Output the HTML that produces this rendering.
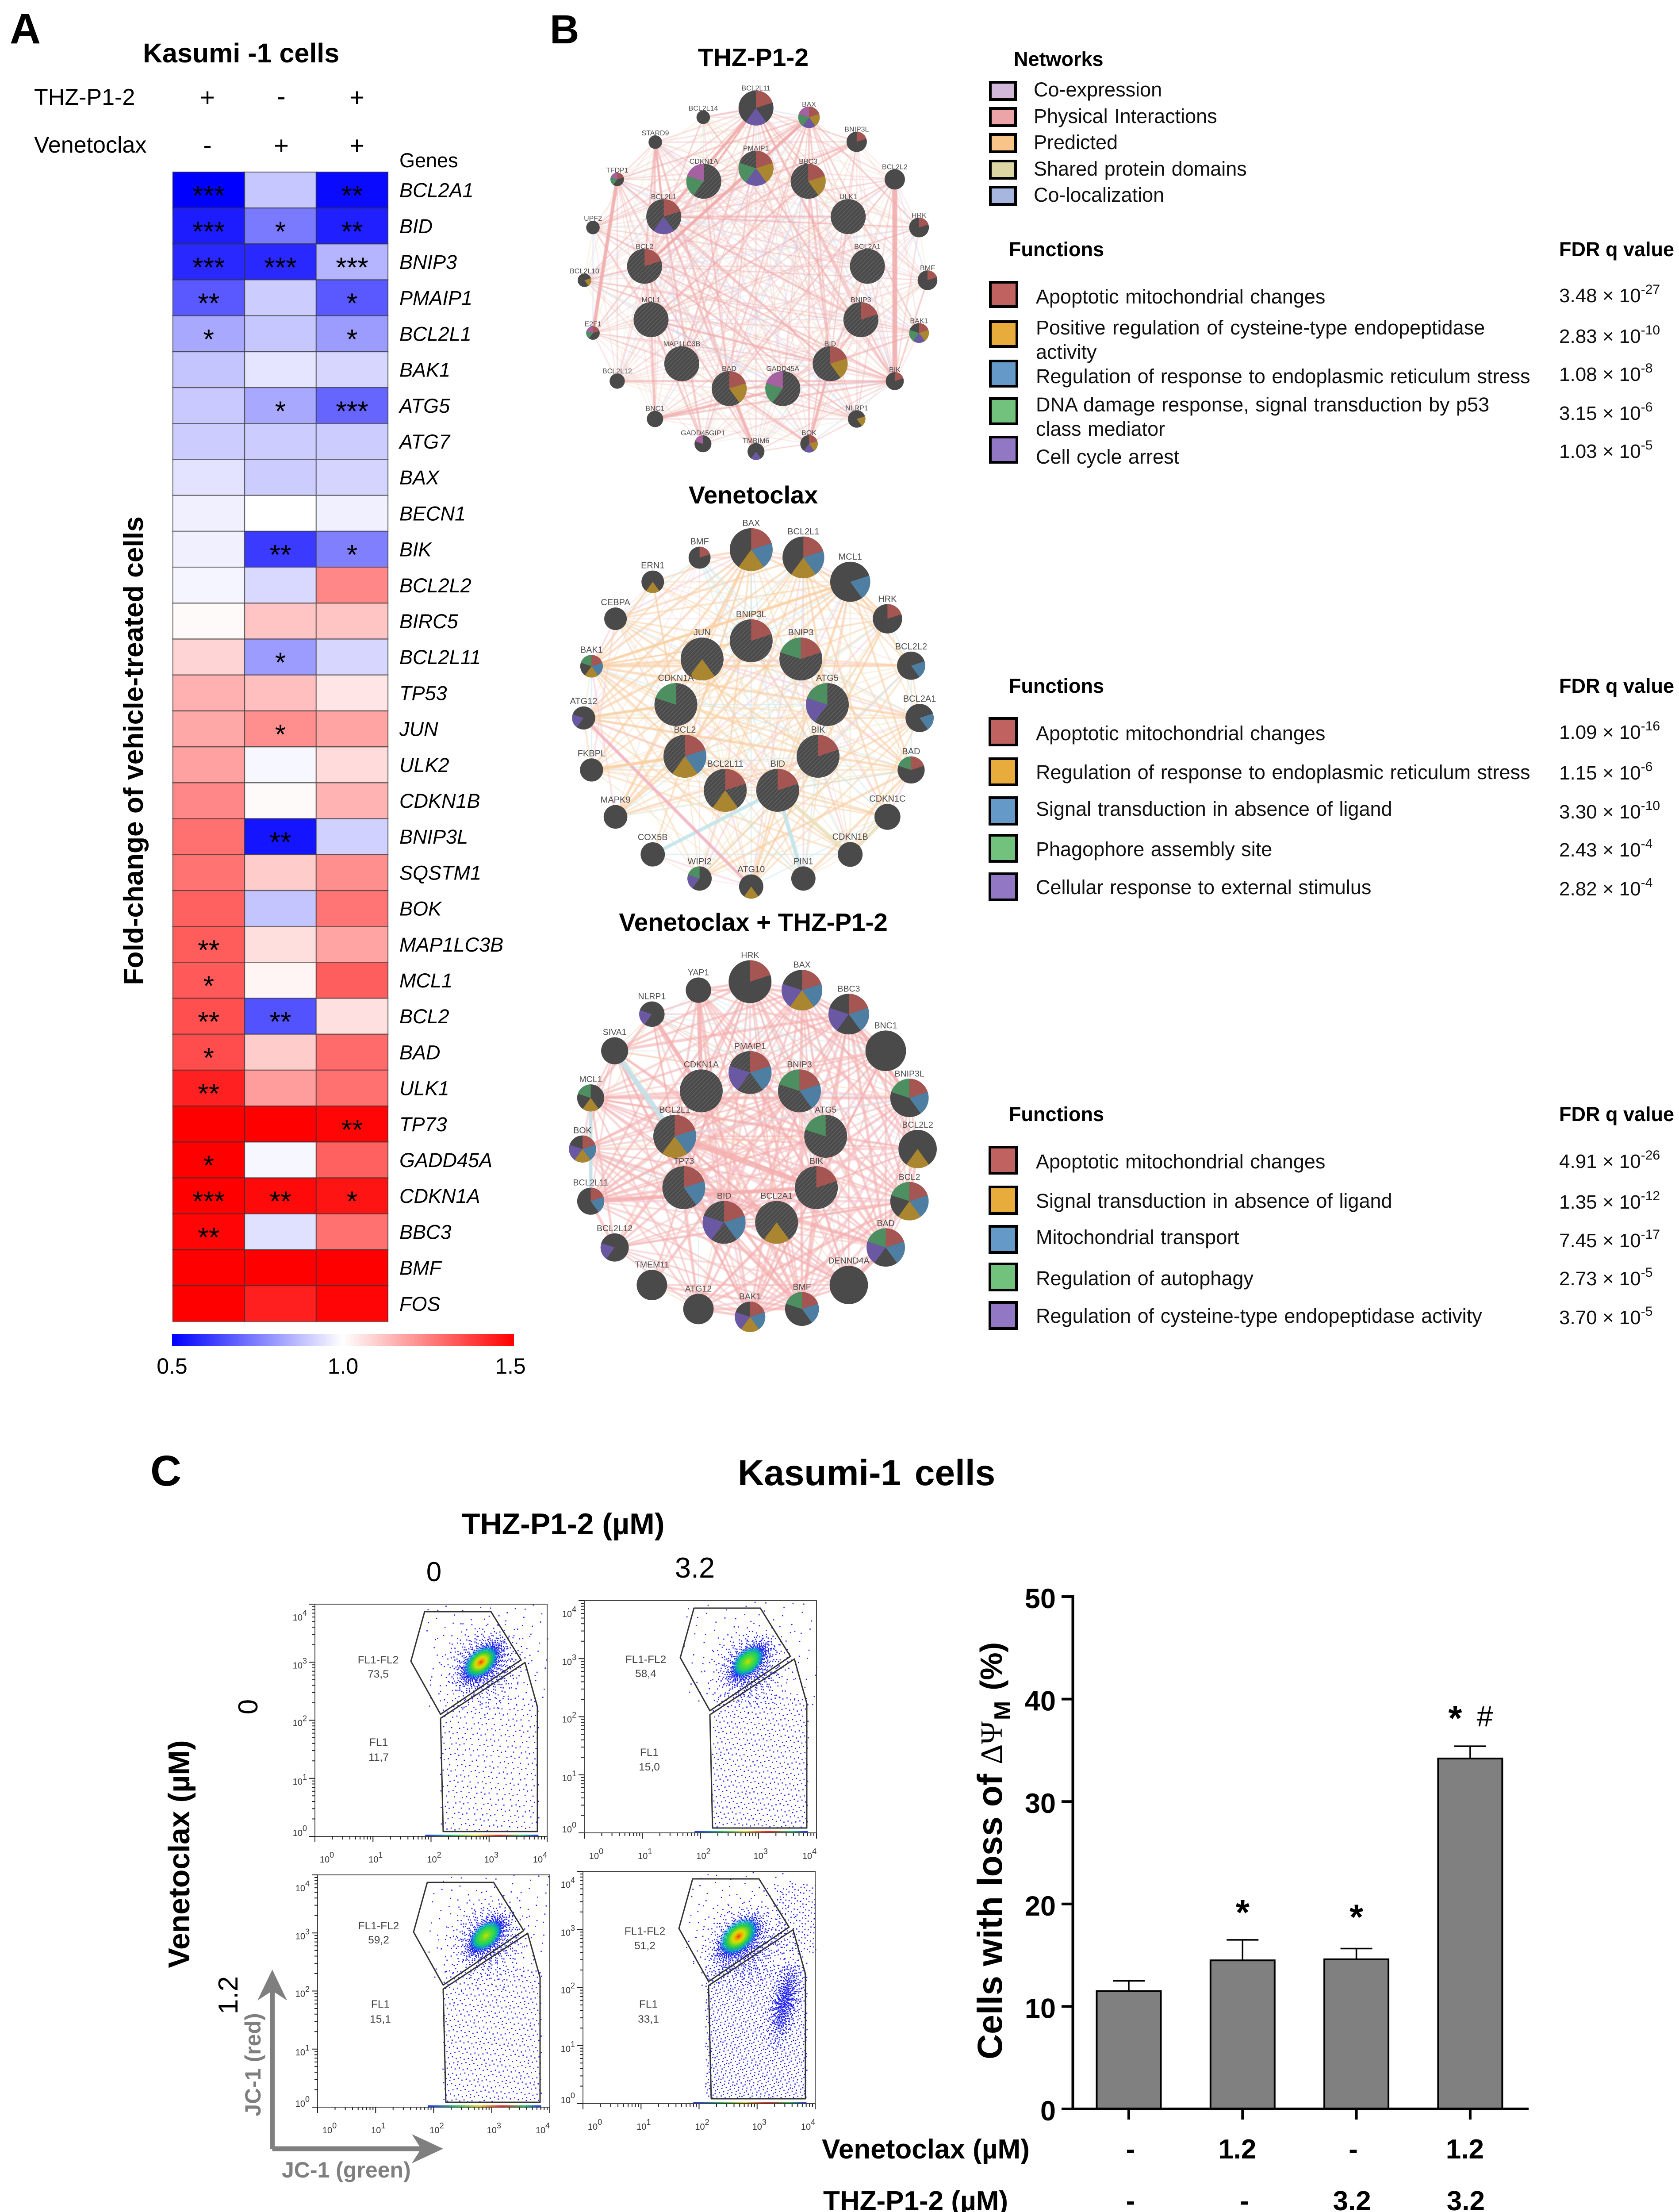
<!DOCTYPE html>
<html lang="en">
<head>
<meta charset="utf-8">
<title>Kasumi-1 cells figure</title>
<style>
html,body{margin:0;padding:0;background:#fff;width:3796px;height:5028px;overflow:hidden}
svg{display:block}
text{font-family:"Liberation Sans",Arial,sans-serif;fill:#000}
.b{font-weight:bold}
.leg{font-size:45px;fill:#111;word-spacing:2px}
.hd{font-size:45px;font-weight:bold}
.fdr{font-size:44px;fill:#111}
.fdr tspan{font-size:30px}
</style>
</head>
<body>
<svg id="fig" xmlns="http://www.w3.org/2000/svg" width="3796" height="5028" viewBox="0 0 3796 5028">
<defs>
<linearGradient id="cbar" x1="0" x2="1" y1="0" y2="0"><stop offset="0" stop-color="#0000ff"/><stop offset=".5" stop-color="#ffffff"/><stop offset="1" stop-color="#ff0000"/></linearGradient>
<linearGradient id="rainbow" x1="0" x2="1" y1="0" y2="0"><stop offset="0" stop-color="#2030ff"/><stop offset=".25" stop-color="#20c060"/><stop offset=".45" stop-color="#e0d020"/><stop offset=".65" stop-color="#f02020"/><stop offset=".85" stop-color="#20c060"/><stop offset="1" stop-color="#2030ff"/></linearGradient>
<radialGradient id="core"><stop offset="0" stop-color="#f03010"/><stop offset=".14" stop-color="#f0a000"/><stop offset=".3" stop-color="#d8e000"/><stop offset=".55" stop-color="#30d040"/><stop offset=".76" stop-color="#00c8b0" stop-opacity=".7"/><stop offset="1" stop-color="#0040ff" stop-opacity="0"/></radialGradient>
<radialGradient id="coreCool"><stop offset="0" stop-color="#d8d800"/><stop offset=".2" stop-color="#70e020"/><stop offset=".55" stop-color="#20d060"/><stop offset=".76" stop-color="#00c8b0" stop-opacity=".7"/><stop offset="1" stop-color="#0040ff" stop-opacity="0"/></radialGradient>
<pattern id="hatch" width="7" height="7" patternUnits="userSpaceOnUse" patternTransform="rotate(-45)"><rect width="7" height="2" fill="#5f5f5f"/></pattern>
<filter id="soft" x="-5%" y="-5%" width="110%" height="110%"><feGaussianBlur stdDeviation="0.9"/></filter>
</defs>

<!-- PANEL A -->
<text x="22" y="98" class="b" font-size="97">A</text>
<text x="323" y="141" class="b" font-size="61">Kasumi -1 cells</text>
<text x="77" y="237" font-size="52">THZ-P1-2</text>
<text x="77" y="345" font-size="52">Venetoclax</text>
<g font-size="58" text-anchor="middle">
<text x="469" y="240">+</text><text x="636" y="238">-</text><text x="807" y="240">+</text>
<text x="469" y="348">-</text><text x="636" y="349">+</text><text x="807" y="349">+</text>
</g>
<text x="903" y="378" font-size="45">Genes</text>
<text transform="translate(323,1697) rotate(-90)" text-anchor="middle" class="b" font-size="62.3">Fold-change of vehicle-treated cells</text>
<g id="heatmap"></g>

<!-- PANEL B -->
<text x="1243" y="98" class="b" font-size="92">B</text>
<text x="1703" y="149" text-anchor="middle" class="b" font-size="57">THZ-P1-2</text>
<text x="1703" y="1138" text-anchor="middle" class="b" font-size="56">Venetoclax</text>
<text x="1703" y="2104" text-anchor="middle" class="b" font-size="56.5">Venetoclax + THZ-P1-2</text>
<g id="networks"></g>

<!-- Networks legend -->
<g>
<text x="2292" y="149" class="hd">Networks</text>
<rect x="2239" y="186" width="57" height="39" fill="#d1b8d9" stroke="#000" stroke-width="6"/>
<text x="2337" y="218" class="leg">Co-expression</text>
<rect x="2239" y="245" width="57" height="39" fill="#eba5a8" stroke="#000" stroke-width="6"/>
<text x="2337" y="278" class="leg">Physical Interactions</text>
<rect x="2239" y="304" width="57" height="39" fill="#f8c488" stroke="#000" stroke-width="6"/>
<text x="2337" y="337" class="leg">Predicted</text>
<rect x="2239" y="364" width="57" height="39" fill="#dcd6a4" stroke="#000" stroke-width="6"/>
<text x="2337" y="397" class="leg">Shared protein domains</text>
<rect x="2239" y="423" width="57" height="39" fill="#a6b6de" stroke="#000" stroke-width="6"/>
<text x="2337" y="456" class="leg">Co-localization</text>
</g>

<!-- Functions 1 -->
<g>
<text x="2281" y="579" class="hd">Functions</text>
<text x="3525" y="579" class="hd">FDR q value</text>
<rect x="2239" y="638" width="60" height="55" fill="#c0625f" stroke="#000" stroke-width="6"/>
<text x="2342" y="686" class="leg">Apoptotic mitochondrial changes</text>
<text x="3525" y="683" class="fdr">3.48 × 10<tspan dy="-19">-27</tspan></text>
<rect x="2239" y="727" width="60" height="56" fill="#e8ac3c" stroke="#000" stroke-width="6"/>
<text x="2342" y="756" class="leg" style="word-spacing:3px">Positive regulation of cysteine-type endopeptidase</text>
<text x="2342" y="811" class="leg">activity</text>
<text x="3525" y="775" class="fdr">2.83 × 10<tspan dy="-19">-10</tspan></text>
<rect x="2239" y="816" width="60" height="57" fill="#6499c8" stroke="#000" stroke-width="6"/>
<text x="2342" y="866" class="leg">Regulation of response to endoplasmic reticulum stress</text>
<text x="3525" y="861" class="fdr">1.08 × 10<tspan dy="-19">-8</tspan></text>
<rect x="2239" y="901" width="60" height="57" fill="#72c27e" stroke="#000" stroke-width="6"/>
<text x="2342" y="930" class="leg">DNA damage response, signal transduction by p53</text>
<text x="2342" y="985" class="leg">class mediator</text>
<text x="3525" y="949" class="fdr">3.15 × 10<tspan dy="-19">-6</tspan></text>
<rect x="2239" y="988" width="60" height="57" fill="#9278c4" stroke="#000" stroke-width="6"/>
<text x="2342" y="1048" class="leg">Cell cycle arrest</text>
<text x="3525" y="1035" class="fdr">1.03 × 10<tspan dy="-19">-5</tspan></text>
</g>

<!-- Functions 2 -->
<g>
<text x="2281" y="1566" class="hd">Functions</text>
<text x="3525" y="1566" class="hd">FDR q value</text>
<rect x="2238" y="1624" width="60" height="60" fill="#c0625f" stroke="#000" stroke-width="6"/>
<text x="2342" y="1673" class="leg">Apoptotic mitochondrial changes</text>
<text x="3525" y="1670" class="fdr">1.09 × 10<tspan dy="-19">-16</tspan></text>
<rect x="2238" y="1715" width="60" height="59" fill="#e8ac3c" stroke="#000" stroke-width="6"/>
<text x="2342" y="1761" class="leg">Regulation of response to endoplasmic reticulum stress</text>
<text x="3525" y="1762" class="fdr">1.15 × 10<tspan dy="-19">-6</tspan></text>
<rect x="2238" y="1803" width="60" height="60" fill="#6499c8" stroke="#000" stroke-width="6"/>
<text x="2342" y="1844" class="leg">Signal transduction in absence of ligand</text>
<text x="3525" y="1850" class="fdr">3.30 × 10<tspan dy="-19">-10</tspan></text>
<rect x="2238" y="1888" width="60" height="59" fill="#72c27e" stroke="#000" stroke-width="6"/>
<text x="2342" y="1935" class="leg">Phagophore assembly site</text>
<text x="3525" y="1936" class="fdr">2.43 × 10<tspan dy="-19">-4</tspan></text>
<rect x="2238" y="1975" width="60" height="59" fill="#9278c4" stroke="#000" stroke-width="6"/>
<text x="2342" y="2021" class="leg">Cellular response to external stimulus</text>
<text x="3525" y="2024" class="fdr">2.82 × 10<tspan dy="-19">-4</tspan></text>
</g>

<!-- Functions 3 -->
<g>
<text x="2281" y="2534" class="hd">Functions</text>
<text x="3525" y="2534" class="hd">FDR q value</text>
<rect x="2238" y="2593" width="60" height="59" fill="#c0625f" stroke="#000" stroke-width="6"/>
<text x="2342" y="2641" class="leg">Apoptotic mitochondrial changes</text>
<text x="3525" y="2640" class="fdr">4.91 × 10<tspan dy="-19">-26</tspan></text>
<rect x="2238" y="2683" width="60" height="60" fill="#e8ac3c" stroke="#000" stroke-width="6"/>
<text x="2342" y="2730" class="leg">Signal transduction in absence of ligand</text>
<text x="3525" y="2732" class="fdr">1.35 × 10<tspan dy="-19">-12</tspan></text>
<rect x="2238" y="2772" width="60" height="59" fill="#6499c8" stroke="#000" stroke-width="6"/>
<text x="2342" y="2812" class="leg">Mitochondrial transport</text>
<text x="3525" y="2819" class="fdr">7.45 × 10<tspan dy="-19">-17</tspan></text>
<rect x="2238" y="2857" width="60" height="59" fill="#72c27e" stroke="#000" stroke-width="6"/>
<text x="2342" y="2905" class="leg">Regulation of autophagy</text>
<text x="3525" y="2905" class="fdr">2.73 × 10<tspan dy="-19">-5</tspan></text>
<rect x="2238" y="2944" width="60" height="59" fill="#9278c4" stroke="#000" stroke-width="6"/>
<text x="2342" y="2990" class="leg">Regulation of cysteine-type endopeptidase activity</text>
<text x="3525" y="2993" class="fdr">3.70 × 10<tspan dy="-19">-5</tspan></text>
</g>

<!-- PANEL C -->
<text x="340" y="3358" class="b" font-size="97">C</text>
<text x="1668" y="3357" class="b" font-size="82" word-spacing="8">Kasumi-1 cells</text>
<text x="1044" y="3468" class="b" font-size="68">THZ-P1-2 (µM)</text>
<text x="981" y="3574" text-anchor="middle" font-size="62">0</text>
<text x="1571" y="3566" text-anchor="middle" font-size="65">3.2</text>
<text transform="translate(428,4191) rotate(-90)" text-anchor="middle" class="b" font-size="68">Venetoclax (µM)</text>
<text transform="translate(582,3858) rotate(-90)" text-anchor="middle" font-size="62">0</text>
<text transform="translate(537,4510) rotate(-90)" text-anchor="middle" font-size="62">1.2</text>
<g id="flow"></g>
<g>
<path d="M615.5 4857V4490M615.5 4857H965" fill="none" stroke="#7f7f7f" stroke-width="11"/>
<path d="M615.7 4452L582 4522L615.7 4500L649 4522Z" fill="#7f7f7f"/>
<path d="M1002 4857L931 4824L952 4857L931 4890Z" fill="#7f7f7f"/>
</g>
<text transform="translate(589,4667) rotate(-90)" text-anchor="middle" class="b" font-size="50" style="fill:#7f7f7f">JC-1 (red)</text>
<text x="637" y="4922" class="b" font-size="50" style="fill:#7f7f7f">JC-1 (green)</text>

<g id="bars"></g>
<text transform="translate(2265,4655) rotate(-90)" class="b" font-size="79">Cells with loss of <tspan font-family="Liberation Serif, serif" font-weight="normal" font-size="70">ΔΨ</tspan><tspan dy="19" dx="3" font-size="52">M</tspan><tspan dy="-19" dx="24" font-size="70">(%)</tspan></text>
<text x="1858" y="4879" class="b" font-size="62">Venetoclax (µM)</text>
<text x="1861" y="4996" class="b" font-size="62">THZ-P1-2 (µM)</text>
</svg>

<script>
/* ---------- HEATMAP DATA ---------- */
const genes = ['BCL2A1','BID','BNIP3','PMAIP1','BCL2L1','BAK1','ATG5','ATG7','BAX','BECN1','BIK','BCL2L2','BIRC5','BCL2L11','TP53','JUN','ULK2','CDKN1B','BNIP3L','SQSTM1','BOK','MAP1LC3B','MCL1','BCL2','BAD','ULK1','TP73','GADD45A','CDKN1A','BBC3','BMF','FOS'];
const thzValues = [0.5,0.555,0.58,0.675,0.83,0.885,0.895,0.9,0.945,0.97,0.97,0.98,1.01,1.085,1.155,1.17,1.185,1.235,1.28,1.275,1.31,1.32,1.325,1.345,1.35,1.435,1.5,1.5,1.5,1.49,1.5,1.5];
const venValues = [0.89,0.74,0.58,0.9,0.89,0.95,0.83,0.9,0.9,1.0,0.615,0.925,1.115,0.805,1.125,1.22,0.985,1.01,0.54,1.1,0.885,1.065,1.02,0.66,1.1,1.195,1.5,0.985,1.48,0.94,1.5,1.44];
const comboValues = [0.52,0.56,0.855,0.675,0.805,0.92,0.7,0.9,0.915,0.97,0.75,1.235,1.115,0.92,1.05,1.18,1.07,1.15,0.91,1.22,1.27,1.18,1.315,1.06,1.29,1.28,1.49,1.31,1.46,1.28,1.5,1.49];
const thzSig = ['***','***','***','**','*','','','','','','','','','','','','','','','','','**','*','**','*','**','','*','***','**','',''];
const venSig = ['','*','***','','','','*','','','','**','','','*','','*','','','**','','','','','**','','','','','**','','',''];
const comboSig = ['**','**','***','*','*','','***','','','','*','','','','','','','','','','','','','','','','**','','*','','',''];
const colorbarTickValues = [0.5,1.0,1.5];
const colorbarTickLabels = ['0.5','1.0','1.5'];

/* ---------- NETWORK DATA: name, column, row, radius, pie slots, hatched ---------- */
const thzNodes = [
['BCL2L11',720,348,62,'r.p..',0],['BAX',908,378,38,'rgpnk',0],['BCL2L14',533,378,24,'',0],['STARD9',363,458,24,'',0],['BNIP3L',1077,457,36,'r....',0],['TFDP1',228,578,24,'r..nk',0],['CDKN1A',535,584,62,'...nk',1],['PMAIP1',720,542,62,'rgpn.',1],['BBC3',905,584,62,'rg...',1],['BCL2L2',1212,578,36,'',0],['ULK1',1047,698,62,'',1],['BCL2L1',393,698,62,'r.p..',1],['UPF2',142,733,24,'',0],['HRK',1298,733,35,'r....',0],['BCL2',325,858,62,'r....',1],['BCL2A1',1115,858,62,'',1],['BCL2L10',112,903,24,'.g...',0],['BMF',1328,903,35,'r....',0],['BNIP3',1092,1030,62,'r....',1],['MCL1',348,1030,62,'',1],['E2F1',142,1073,24,'r..nk',0],['BAK1',1298,1073,35,'rgpn.',0],['MAP1LC3B',457,1172,62,'',1],['BID',983,1172,62,'rg...',1],['BAD',625,1252,62,'rg...',1],['GADD45A',815,1252,62,'...nk',1],['BIK',1212,1228,32,'r....',0],['BCL2L12',228,1228,27,'',0],['BNC1',362,1350,29,'',0],['NLRP1',1077,1350,31,'.g...',0],['GADD45GIP1',532,1430,30,'....k',0],['BOK',908,1430,31,'rgp..',0],['TMBIM6',720,1455,30,'..p..',0]];
const venNodes = [
['BAX',703,235,76,'rbg..',0],['BCL2L1',888,264,74,'rbg..',0],['BMF',520,265,39,'r....',0],['MCL1',1054,355,71,'.b...',0],['ERN1',354,355,40,'..g..',0],['CEBPA',222,493,40,'',0],['HRK',1186,493,52,'r....',0],['BNIP3L',703,575,76,'r....',1],['JUN',529,643,76,'..g..',1],['BNIP3',879,643,76,'r...n',1],['BAK1',137,670,40,'rbg.n',0],['BCL2L2',1270,668,50,'.b...',0],['CDKN1A',436,813,76,'....n',1],['ATG5',973,813,76,'...pn',1],['ATG12',109,863,41,'...p.',0],['BCL2A1',1300,863,50,'.b...',0],['BCL2',468,1006,76,'rbg..',1],['BIK',940,1006,76,'r....',1],['FKBPL',137,1057,41,'',0],['BAD',1270,1057,48,'r...n',0],['BCL2L11',611,1133,76,'r.g..',1],['BID',797,1133,76,'r....',1],['MAPK9',222,1232,42,'',0],['CDKN1C',1186,1232,46,'',0],['COX5B',354,1372,43,'',0],['CDKN1B',1054,1372,44,'',0],['WIPI2',520,1462,43,'...pn',0],['ATG10',703,1492,43,'..g..',0],['PIN1',888,1462,43,'',0]];
const comboNodes = [
['HRK',699,265,76,'r....',0],['BAX',883,295,72,'rbgp.',0],['YAP1',516,295,45,'',0],['BBC3',1049,380,72,'rb.p.',0],['NLRP1',351,380,45,'...p.',0],['BNC1',1180,510,72,'',0],['SIVA1',219,510,48,'',0],['PMAIP1',699,587,76,'rb.p.',1],['CDKN1A',526,652,76,'',1],['BNIP3',874,652,76,'rb..n',1],['BNIP3L',1264,677,68,'rb..n',0],['MCL1',134,677,48,'..g.n',0],['BCL2L1',432,813,76,'rbg..',1],['ATG5',967,813,76,'....n',1],['BCL2L2',1293,858,68,'..g..',0],['BOK',105,858,48,'rbgp.',0],['TP73',464,995,76,'rb...',1],['BIK',934,995,76,'r....',1],['BCL2L11',134,1043,48,'rb...',0],['BCL2',1264,1043,68,'rbg.n',0],['BID',607,1118,76,'rb.p.',1],['BCL2A1',793,1118,76,'..g..',1],['BAD',1180,1207,68,'rb.pn',0],['BCL2L12',219,1207,50,'...p.',0],['TMEM11',351,1340,54,'',0],['DENND4A',1049,1340,68,'',0],['ATG12',516,1425,54,'',0],['BMF',883,1425,60,'rb..n',0],['BAK1',699,1453,54,'rbgp.',0]];
const thzThick = [['TFDP1','E2F1','#f0a8a8',8],['BCL2L2','BIK','#f0a8a8',11],['STARD9','BCL2L1','#f0b0b0',5],['BCL2L11','BCL2L1','#f0a8a8',7],['BAX','BCL2','#f0a8a8',7],['BNC1','GADD45A','#f0b0b0',6],['TMBIM6','BAD','#f0b0b0',6],['BOK','BID','#f0b0b0',6]];
const venThick = [['COX5B','BID','#bfe4ea',8],['PIN1','BID','#bfe4ea',9],['ATG12','ATG10','#f0b0c0',7],['CDKN1C','CDKN1B','#e8e0b8',7],['CDKN1B','BID','#e8e0b8',8],['BAK1','MCL1','#f9cfa0',6],['FKBPL','BCL2','#f9cfa0',7],['ATG12','CDKN1A','#f9cfa0',6]];
const comboThick = [['SIVA1','BCL2L1','#bfe4ea',12],['NLRP1','CDKN1A','#f4aeae',9],['YAP1','CDKN1A','#f4aeae',9],['BCL2L1','BIK','#f4aeae',12],['BCL2L11','BIK','#f4aeae',9],['MCL1','BCL2L11','#bfe4ea',8],['DENND4A','BAD','#f4aeae',9],['BBC3','BNIP3L','#f4aeae',8]];
const thzHubs = ['BCL2L1','BCL2','MCL1','BAX','BCL2L11','BAD','BID','BIK'];
const venHubs = ['MCL1','BAX','BCL2L1','BCL2','BID','BIK','BAK1','BAD'];
const comboHubs = ['BCL2L1','BAX','HRK','BBC3','BCL2','BID','BIK','BMF','BAD','MCL1','BAK1','BCL2L11'];

/* ---------- FLOW DATA (log-decade units) ---------- */
const flowLabels = [['73,5','11,7'],['58,4','15,0'],['59,2','15,1'],['51,2','33,1']];
/* estimated populations: centre x, centre y, spread x, spread y, tilt, events (kind 0) or box x0,x1,y0,y1,events (kind 1) */
const flowClouds1 = [[0,2.86,3.0,.17,.17,.65,900],[0,2.9,2.95,.3,.3,.1,620],[1,2.15,3.85,.1,2.4,430],[1,1.9,4,2.2,4,110]];
const flowClouds2 = [[0,2.82,2.95,.16,.16,.65,800],[0,2.85,2.85,.3,.3,.1,560],[1,2.2,3.85,.1,2.4,620],[1,1.7,4,2.2,4,100]];
const flowClouds3 = [[0,2.9,2.95,.16,.16,.65,800],[0,2.92,2.9,.3,.3,.1,560],[1,2.15,3.85,.1,2.4,650],[1,1.9,4,2.2,4,110]];
const flowClouds4 = [[0,2.68,2.85,.18,.18,.65,900],[0,2.75,2.75,.32,.32,.1,680],[1,2.1,3.85,.1,2.4,1150],[0,3.46,1.75,.13,.34,.5,520],[1,3.3,4,2.6,3.8,170],[1,1.8,3.6,2.4,4,90]];
const flowCores = [[2.86,3.0,38,'core'],[2.82,2.95,35,'coreCool'],[2.9,2.95,35,'coreCool'],[2.68,2.88,42,'core']];
const flowExponents = ['0','1','2','3','4'];

/* ---------- BAR DATA ---------- */
const barCategories = ['Vehicle','Venetoclax','THZ-P1-2','Venetoclax + THZ-P1-2'];
const barValues = [11.5,14.5,14.6,34.2];
const barErrors = [1.0,2.0,1.05,1.2];
const barSig = ['','*','*','*'];
const barYTicks = [0,10,20,30,40,50];
const venDoseLabels = ['-','1.2','-','1.2'];
const thzDoseLabels = ['-','-','3.2','3.2'];

/* ---------- HELPERS ---------- */
const SVGNS = 'http://www.w3.org/2000/svg';
function make(tag, parent, attrs, txt) {
  const n = document.createElementNS(SVGNS, tag);
  for (const k in attrs) n.setAttribute(k, attrs[k]);
  if (txt !== undefined) n.textContent = txt;
  parent.appendChild(n);
  return n;
}

/* ---------- HEATMAP ---------- */
(function () {
  const g = document.getElementById('heatmap');
  const colX = [390.6, 553, 715, 877];
  const top = 389, rowH = 81.2;
  const rowY = i => top + i * rowH;
  const colSeries = [thzValues, venValues, comboValues];
  const sigSeries = [thzSig, venSig, comboSig];
  function color(v) {
    const t = Math.max(-1, Math.min(1, (v - 1) / 0.5));
    const c = Math.round(255 * (1 - Math.abs(t)));
    return t < 0 ? `rgb(${c},${c},255)` : `rgb(255,${c},${c})`;
  }
  colSeries.forEach((vals, c) => {
    vals.forEach((v, r) => {
      const cell = make('rect', g, {x: colX[c], y: rowY(r), width: colX[c + 1] - colX[c], height: rowH, fill: color(v), stroke: 'rgba(50,50,50,.55)', 'stroke-width': 2.5});
      
      
    });
  });
  sigSeries.forEach((vals, c) => {
    vals.forEach((s, r) => {
      if (!s) return;
      const st = make('text', g, {x: (colX[c] + colX[c + 1]) / 2, y: rowY(r) + rowH / 2 + 34, 'text-anchor': 'middle', 'font-size': 63}, s);
      
      
    });
  });
  genes.forEach((name, r) => {
    const lab = make('text', g, {x: 903, y: rowY(r) + rowH / 2 + 16, 'font-size': 45, 'font-style': 'italic'}, name);
    
    
  });
  const cbar = make('rect', g, {x: 389, y: 3016, width: 773, height: 27, fill: 'url(#cbar)'});
  
  
  const cbX = v => 389 + (v - 0.5) * 773;
  colorbarTickValues.forEach((v, i) => {
    const t = make('text', g, {x: Math.min(cbX(v), 1154), y: 3105, 'text-anchor': 'middle', 'font-size': 50}, colorbarTickLabels[i]);
    
    
  });
})();

/* ---------- NETWORKS ---------- */
(function () {
  const root = document.getElementById('networks');
  const sliceColors = {r: '#a55552', g: '#a9862f', b: '#4f7ea3', n: '#4e8f62', p: '#6b58a3', k: '#a561a0'};
  const nets = [
    {nodes: thzNodes, thick: thzThick, hubs: thzHubs, ox: 1250, oy: 0, fy: 1.4255, fs: 16, gap: 0, dens: 62, base: 1.3, span: .7, op: .6,
     hubW: 2.6, hubColor: '#f0a4a4',
     pal: ['#f3bcbc','#f0a8a8','#f6cccc','#f3bcbc','#f0e4c8','#f3bcbc','#dce8d0','#f6cccc','#d8dcf2']},
    {nodes: venNodes, thick: venThick, hubs: venHubs, ox: 1250, oy: 1100, fy: 1.6505, fs: 20, gap: 5, dens: 52, base: 1.5, span: 1, op: .6,
     hubW: 3.4, hubColor: '#f9c99a',
     pal: ['#f9cfa0','#f9d4ac','#f7c8d2','#f9cfa0','#c6e7ec','#f9cfa0','#f7c8d2','#ece4c0','#f9d4ac']},
    {nodes: comboNodes, thick: comboThick, hubs: comboHubs, ox: 1250, oy: 2050, fy: 1.568, fs: 19.5, gap: 5, dens: 56, base: 2, span: 1.5, op: .6,
     hubW: 4.2, hubColor: '#f4aaaa',
     pal: ['#f4aeae','#f6bebe','#f4aeae','#f8cfa0','#f4aeae','#f6bebe','#c6e7ec','#f4aeae','#f5c0cc']}
  ];
  const FX = 1.568;
  nets.forEach(net => {
    const g = make('g', root, {});
    
    
    const edges = make('g', g, {filter: 'url(#soft)'});
    
    
    const px = d => net.ox + d / FX, py = d => net.oy + d / net.fy, pr = d => d / FX;
    const N = net.nodes;
    for (let i = 0; i < N.length; i++) {
      for (let j = i + 1; j < N.length; j++) {
        const h = (i * 37 + j * 53 + i * j * 11) % 100;
        const hub = net.hubs.includes(N[i][0]) || net.hubs.includes(N[j][0]);
        if (h >= net.dens + (hub ? 22 : 0)) continue;
        const strong = hub && h % 3 === 0;
        const w = strong ? net.hubW + (h % 4) * .7 : net.base + (h % 3) * net.span;
        const line = make('line', edges, {x1: px(N[i][1]), y1: py(N[i][2]), x2: px(N[j][1]), y2: py(N[j][2]), stroke: strong ? net.hubColor : net.pal[h % net.pal.length], 'stroke-width': w, opacity: net.op});
        
        
      }
    }
    net.thick.forEach(t => {
      const a = N.find(n => n[0] === t[0]), b = N.find(n => n[0] === t[1]);
      const line = make('line', edges, {x1: px(a[1]), y1: py(a[2]), x2: px(b[1]), y2: py(b[2]), stroke: t[2], 'stroke-width': t[3], opacity: .85});
      
      
    });
    N.forEach(n => {
      const cx = px(n[1]), cy = py(n[2]), r = pr(n[3]);
      const node = make('g', g, {});
      
      
      make('circle', node, {cx: cx, cy: cy, r: r, fill: '#4a4a4a'});
      if (n[5]) make('circle', node, {cx: cx, cy: cy, r: r, fill: 'url(#hatch)'});
      [...n[4]].forEach((ch, s) => {
        if (ch === '.') return;
        const a0 = (s * 72 - 90) * Math.PI / 180, a1 = ((s + 1) * 72 - 90) * Math.PI / 180;
        const d = `M${cx} ${cy}L${cx + r * Math.cos(a0)} ${cy + r * Math.sin(a0)}A${r} ${r} 0 0 1 ${cx + r * Math.cos(a1)} ${cy + r * Math.sin(a1)}Z`;
        make('path', node, {d: d, fill: sliceColors[ch]});
      });
      make('text', node, {x: cx, y: cy - r - net.gap, 'text-anchor': 'middle', 'font-size': net.fs, style: 'fill:#4d4d4d'}, n[0]);
    });
  });
})();

/* ---------- FLOW PLOTS ---------- */
(function () {
  const root = document.getElementById('flow');
  const frames = [[712, 3626], [1321, 3618], [718, 4238], [1318, 4230]];
  const labelPos = [[143,126,158,144,312,346],[139,133,165,147,343,376],[138,115,147,142,292,326],[140,135,168,148,300,334]];
  const cloudSets = [flowClouds1, flowClouds2, flowClouds3, flowClouds4];
  const S = 525;
  const upperGate = [[248,17],[398,17],[466,126],[284,249],[217,129]];
  const lowerGate = [[284,258],[475,132],[503,232],[503,514],[290,514]];
  const xOff = [27, 6, 7, 5, -16], yOff = [-8, 7, 6, 7, 30];
  frames.forEach((f, p) => {
    const g = make('g', root, {});
    
    
    const X = d => f[0] + d / 4 * S;
    const Y = d => f[1] + S - d / 4 * S;
    let dots = '', seq = p * 500 + 1;
    const dot = (x, y) => {
      if (x < 0 || x > 4 || y < 0 || y > 4) return;
      dots += `M${X(x).toFixed(1)} ${Y(y).toFixed(1)}h2.6v2.6h-2.6z`;
    };
    cloudSets[p].forEach(c => {
      const count = c[c.length - 1];
      for (let k = 0; k < count; k++) {
        seq++;
        const u = (0.5 + seq * 0.7548776662) % 1, v = (0.5 + seq * 0.5698402910) % 1;
        if (c[0] === 1) {
          dot(c[1] + u * (c[2] - c[1]), c[3] + v * (c[4] - c[3]));
        } else {
          const rad = Math.sqrt(-2 * Math.log(1 - u * 0.995)), th = 2 * Math.PI * v;
          const a = rad * Math.cos(th), b = rad * Math.sin(th);
          dot(c[1] + c[3] * a, c[2] + c[4] * (c[5] * a + Math.sqrt(1 - c[5] * c[5]) * b));
        }
      }
    });
    const ev = make('path', g, {d: dots, fill: '#1f1ff0'});
    
    
    const core = flowCores[p];
    const hot = make('ellipse', g, {cx: X(core[0]), cy: Y(core[1]), rx: core[2] * 1.25, ry: core[2] * .8, fill: `url(#${core[3]})`, transform: `rotate(-42 ${X(core[0])} ${Y(core[1])})`});
    
    
    const strip = make('rect', g, {x: X(1.9), y: Y(0) - 4, width: X(3.85) - X(1.9), height: 4, fill: 'url(#rainbow)'});
    
    
    const frame = make('rect', g, {x: f[0], y: f[1], width: S, height: S, fill: 'none', stroke: '#444', 'stroke-width': 2});
    
    
    let tk = '';
    for (let d = 0; d <= 4; d++) {
      tk += `M${X(d)} ${Y(0)}v13M${X(0)} ${Y(d)}h-13`;
      if (d < 4) for (let m = 2; m < 10; m++) {
        const o = d + Math.log10(m);
        tk += `M${X(o)} ${Y(0)}v7M${X(0)} ${Y(o)}h-7`;
      }
    }
    const ticks = make('path', g, {d: tk, fill: 'none', stroke: '#222', 'stroke-width': 2});
    
    
    flowExponents.forEach((e, d) => {
      const xl = make('text', g, {x: X(d) + xOff[d], y: Y(0) + 59, 'text-anchor': 'middle', 'font-size': 20, style: 'fill:#333'}, '10');
      
      
      make('tspan', xl, {dy: -11, 'font-size': 18}, e);
      const yl = make('text', g, {x: X(0) - 18, y: Y(d) + yOff[d] + 7, 'text-anchor': 'end', 'font-size': 20, style: 'fill:#333'}, '10');
      
      
      make('tspan', yl, {dy: -11, 'font-size': 18}, e);
    });
    [upperGate, lowerGate].forEach(gate => {
      const pg = make('polygon', g, {points: gate.map(q => (f[0] + q[0]) + ',' + (f[1] + q[1])).join(' '), fill: 'none', stroke: '#333', 'stroke-width': 3, 'stroke-linejoin': 'round'});
      
      
    });
    const L = labelPos[p];
    [['FL1-FL2', L[0], L[1]], [flowLabels[p][0], L[0], L[2]], ['FL1', L[3], L[4]], [flowLabels[p][1], L[3], L[5]]].forEach(t => {
      const lb = make('text', g, {x: f[0] + t[1], y: f[1] + t[2] + 8, 'text-anchor': 'middle', 'font-size': 24.5, style: 'fill:#444'}, t[0]);
      
      
    });
  });
})();

/* ---------- BAR CHART ---------- */
(function () {
  const g = document.getElementById('bars');
  const y0 = 4767, yTop = 3609, yMax = 50;
  const Y = v => y0 - v / yMax * (y0 - yTop);
  const X = i => 2552 + i * 257.3;
  const axisX = 2425.5;
  barValues.forEach((v, i) => {
    const err = make('path', g, {d: `M${X(i)} ${Y(v)}V${Y(v + barErrors[i])}M${X(i) - 36} ${Y(v + barErrors[i])}H${X(i) + 36}`, fill: 'none', stroke: '#000', 'stroke-width': 3.5});
    
    
    const bar = make('rect', g, {x: X(i) - 72.5, y: Y(v), width: 145, height: y0 - Y(v), fill: '#808080', stroke: '#000', 'stroke-width': 4});
    
    
    const tick = make('line', g, {x1: X(i), x2: X(i), y1: y0, y2: y0 + 24, stroke: '#000', 'stroke-width': 6});
    
    
    if (barSig[i]) {
      const shift = i === 3 ? -34 : 0;
      const top = Y(v + barErrors[i]);
      const star = make('text', g, {x: X(i) + shift, y: top - (i === 3 ? 36 : i === 2 ? 44 : 35) , 'text-anchor': 'middle', 'font-size': 80, 'font-weight': 'bold'}, barSig[i]);
      
      
    }
    const lab1 = make('text', g, {x: X(i) - 12 + (venDoseLabels[i] === '-' ? (i === 0 ? 16 : 5) : 0) , y: 4879, 'text-anchor': 'middle', 'font-size': 62, 'font-weight': 'bold'}, venDoseLabels[i]);
    
    
    const lab2 = make('text', g, {x: X(i) - 10 + (thzDoseLabels[i] === '-' ? 14 : 0), y: 4996, 'text-anchor': 'middle', 'font-size': 62, 'font-weight': 'bold'}, thzDoseLabels[i]);
    
    
  });
  const hash = make('text', g, {x: 3357, y: 3902, 'text-anchor': 'middle', 'font-size': 66}, '#');
  
  
  barYTicks.forEach(v => {
    const t = make('line', g, {x1: 2400, x2: axisX, y1: Y(v), y2: Y(v), stroke: '#000', 'stroke-width': 6});
    
    
    const l = make('text', g, {x: 2387, y: Y(v) + 26, 'text-anchor': 'end', 'font-size': 63, 'font-weight': 'bold'}, String(v));
    
    
  });
  const ya = make('line', g, {x1: axisX, x2: axisX, y1: yTop - 3, y2: y0 + 3, stroke: '#000', 'stroke-width': 6});
  
  
  const xa = make('line', g, {x1: 2400, x2: 3456, y1: y0, y2: y0, stroke: '#000', 'stroke-width': 6});
  
  
})();
</script>
</body>
</html>
